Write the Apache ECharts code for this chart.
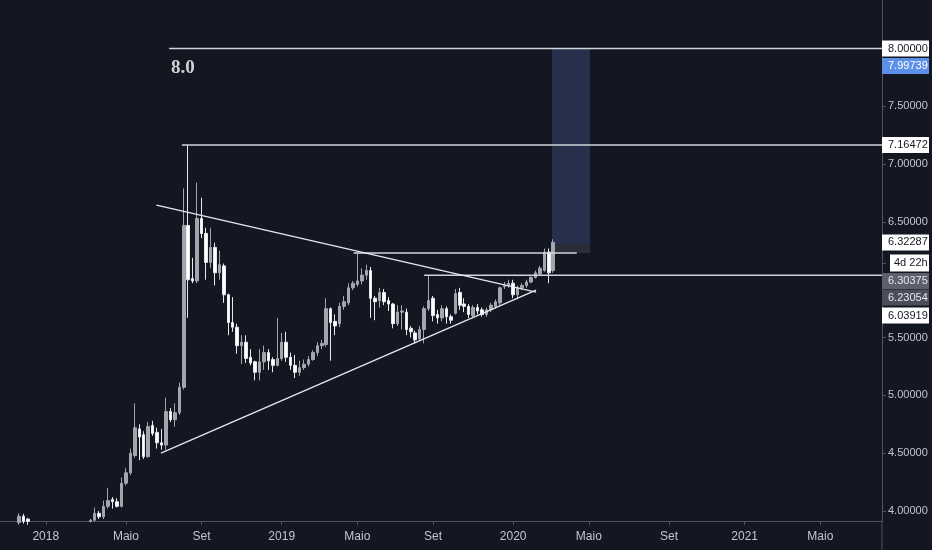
<!DOCTYPE html>
<html>
<head>
<meta charset="utf-8">
<script src="https://cdn.jsdelivr.net/npm/echarts@6/dist/echarts.min.js"></script>
<style>
html,body{margin:0;padding:0;background:#131722;}
#chart{width:932px;height:550px;}
</style>
</head>
<body>
<div id="chart"></div>
<script>
// ---------------- DATA ----------------
// weekly candles: [open, close, low, high]
const earlyStart = '2017-11-20';
const earlyOHLC = [
  [3.90, 3.955, 3.88, 3.98],
  [3.955, 3.91, 3.89, 3.975],
  [3.93, 3.91, 3.88, 3.94]
];
const mainStart = '2018-03-12';
const mainOHLC = [
  [3.91,3.92,3.90,3.93],[3.92,3.98,3.91,4.03],[3.98,3.95,3.93,4.00],[3.95,4.04,3.93,4.09],
  [4.04,4.09,4.02,4.20],[4.10,4.08,4.02,4.12],[4.08,4.04,4.03,4.11],[4.04,4.24,4.03,4.29],
  [4.24,4.33,4.22,4.37],[4.33,4.50,4.31,4.54],[4.48,4.72,4.46,4.93],[4.71,4.64,4.44,4.75],
  [4.66,4.47,4.45,4.69],[4.47,4.73,4.46,4.77],[4.74,4.67,4.65,4.78],[4.68,4.59,4.54,4.72],
  [4.59,4.57,4.53,4.71],[4.57,4.86,4.53,4.98],[4.86,4.79,4.77,4.89],[4.79,4.85,4.73,4.93],
  [4.85,5.07,4.83,5.11],[5.07,6.47,5.05,6.79],[6.47,6.00,5.67,7.16472],[6.01,5.99,5.97,6.19],
  [5.99,6.53,5.97,6.84],[6.53,6.40,6.36,6.71],[6.40,6.15,6.00,6.45],[6.15,6.28,6.10,6.45],
  [6.28,6.06,5.95,6.32],[6.06,6.13,6.00,6.25],[6.12,5.87,5.80,6.14],[5.87,5.63,5.52,5.88],
  [5.63,5.59,5.55,5.85],[5.59,5.43,5.36,5.62],[5.43,5.46,5.27,5.52],[5.46,5.32,5.28,5.52],
  [5.33,5.28,5.26,5.40],[5.29,5.20,5.13,5.30],[5.20,5.29,5.13,5.40],[5.29,5.37,5.22,5.43],
  [5.37,5.30,5.22,5.40],[5.31,5.26,5.20,5.33],[5.26,5.32,5.25,5.67],[5.32,5.46,5.30,5.54],
  [5.46,5.33,5.29,5.55],[5.33,5.26,5.22,5.37],[5.26,5.20,5.15,5.35],[5.20,5.24,5.17,5.30],
  [5.24,5.27,5.22,5.31],[5.27,5.31,5.25,5.34],[5.31,5.37,5.30,5.39],[5.37,5.43,5.34,5.46],
  [5.43,5.45,5.40,5.48],[5.44,5.75,5.42,5.84],[5.75,5.63,5.30,5.76],[5.64,5.60,5.52,5.70],
  [5.62,5.77,5.59,5.80],[5.77,5.81,5.74,5.86],[5.80,5.93,5.78,5.97],[5.93,5.97,5.91,5.99],
  [5.96,5.99,5.94,6.23054],[5.99,6.04,5.96,6.10],[6.04,6.08,6.00,6.13],[6.08,5.84,5.67,6.11],
  [5.84,5.81,5.65,5.86],[5.82,5.89,5.76,5.93],[5.89,5.81,5.78,5.92],[5.82,5.79,5.73,5.85],
  [5.79,5.62,5.58,5.80],[5.62,5.72,5.60,5.78],[5.72,5.73,5.57,5.78],[5.72,5.57,5.52,5.75],
  [5.58,5.55,5.50,5.60],[5.54,5.48,5.45,5.56],[5.49,5.57,5.47,5.60],[5.57,5.75,5.45,5.77],
  [5.75,5.82,5.73,6.03919],[5.84,5.69,5.64,5.86],[5.70,5.67,5.62,5.74],[5.67,5.75,5.64,5.78],
  [5.75,5.68,5.62,5.77],[5.68,5.65,5.62,5.70],[5.71,5.88,5.70,5.92],[5.89,5.78,5.74,5.93],
  [5.79,5.77,5.72,5.84],[5.77,5.70,5.67,5.79],[5.69,5.76,5.67,5.78],[5.76,5.73,5.70,5.79],
  [5.74,5.70,5.68,5.76],[5.70,5.74,5.68,5.76],[5.74,5.78,5.72,5.80],[5.77,5.81,5.75,5.83],
  [5.80,5.93,5.78,5.94],[5.94,5.95,5.92,5.98],[5.95,5.97,5.93,6.00],[5.97,5.87,5.84,6.00],
  [5.87,5.93,5.83,5.95],[5.93,5.95,5.91,5.97],[5.95,5.98,5.93,6.00],[5.98,6.02,5.97,6.03],
  [6.02,6.06,6.01,6.08],[6.05,6.10,6.04,6.12],[6.08,6.24,6.07,6.27],[6.24,6.06,5.97,6.27],
  [6.08,6.32287,6.06,6.35]
];

const xTickDates = ['2018-01-01','2018-05-07','2018-09-03','2019-01-07','2019-05-06','2019-09-02',
                    '2020-01-06','2020-05-04','2020-09-07','2021-01-04','2021-05-03'];
const xTickLabels = ['2018','Maio','Set','2019','Maio','Set','2020','Maio','Set','2021','Maio'];

const yTickValues = [4.0, 4.5, 5.0, 5.5, 6.5, 7.0, 7.5];
const yTickLabels = ['4.00000','4.50000','5.00000','5.50000','6.50000','7.00000','7.50000'];

const tagValues = [8.0, 7.99739, 7.16472, 6.32287, 6.32287, 6.30375, 6.23054, 6.03919];
const tagTexts  = ['8.00000','7.99739','7.16472','6.32287','4d 22h','6.30375','6.23054','6.03919'];
const tagKinds  = ['white','blue','white','white','timer','grey','grey2','white'];

const levelValues = [8.0, 7.16472, 6.23054, 6.03919];
const levelFrom   = ['2018-07-14','2018-08-03','2019-04-30','2019-08-19'];
const levelTo     = [null, null, '2020-04-15', null];

const trendFromDates = ['2018-06-24','2018-07-01'];
const trendFromValues = [6.646, 4.501];
const trendToDates = ['2020-02-11','2020-02-11'];
const trendToValues = [5.894, 5.911];

const positionDates = ['2020-03-07','2020-05-06'];
const positionTarget = 7.99739, positionEntry = 6.30375, positionStop = 6.23054;

const noteText = '8.0', noteDate = '2018-07-17', noteValue = 7.831;

// ---------------- LAYOUT ----------------
const X_MIN = '2017-10-21', X_MAX = '2021-08-08';
const Y_MIN = 3.9135, Y_MAX = 8.4196;
const CHART_W = 932, CHART_H = 550;
const GRID = {left:0, right:47, top:0, bottom:29};
const tagShiftPx = [0, 17.2, 0, 0, 20.6, 36.4, 44.4, 40.3];
const FONT = "'Liberation Sans Narrow', 'Liberation Sans', sans-serif";
const AXIS_COLOR = '#50535e';

// ---------------- BUILD ----------------
function T(s, addDays) {
  const p = s.split('-').map(Number);
  return new Date(p[0], p[1]-1, p[2] + (addDays || 0)).getTime();
}
const candles = [];
earlyOHLC.forEach((d,i) => candles.push([T(earlyStart, 7*i)].concat(d)));
mainOHLC.forEach((d,i) => candles.push([T(mainStart, 7*i)].concat(d)));

const pxPerUnit = (CHART_H - GRID.top - GRID.bottom) / (Y_MAX - Y_MIN);
const labelMap = {};
const yLabelPositions = [];
yTickValues.forEach((v,i) => { yLabelPositions.push(v); labelMap[v.toFixed(6)] = {text: yTickLabels[i], kind:'n'}; });
tagValues.forEach((v,i) => {
  const pos = v - tagShiftPx[i] / pxPerUnit;
  yLabelPositions.push(pos);
  labelMap[pos.toFixed(6)] = {text: tagTexts[i], kind: tagKinds[i]};
});

const xTickTimes = xTickDates.map(d => T(d));

const lineStyle = {color:'#d1d4dc', width:1.5};
const lineSeries = [];
levelValues.forEach((v,i) => {
  lineSeries.push({
    type:'line', silent:true, symbol:'none', animation:false, lineStyle,
    data:[[T(levelFrom[i]), v],[T(levelTo[i] || X_MAX), v]]
  });
});
trendFromDates.forEach((d,i) => {
  lineSeries.push({
    type:'line', silent:true, symbol:'none', animation:false,
    lineStyle:{color:'#e6e8ee', width:1.3},
    data:[[T(d), trendFromValues[i]],[T(trendToDates[i]), trendToValues[i]]]
  });
});

const boxStyle = {width:41, height:12, lineHeight:12, padding:[2,0,2,6], fontSize:11, fontFamily:FONT};
const chart = echarts.init(document.getElementById('chart'));
chart.setOption({
  backgroundColor:'#131722',
  animation:false,
  grid:GRID,
  xAxis:{
    type:'value', min:T(X_MIN), max:T(X_MAX),
    axisLine:{show:true, lineStyle:{color:AXIS_COLOR, width:1}},
    axisTick:{show:true, length:4, lineStyle:{color:AXIS_COLOR}, customValues:xTickTimes},
    axisLabel:{
      customValues:xTickTimes, margin:10, color:'#c3c6ce', fontSize:12, fontFamily:FONT,
      formatter:(val) => { const i = xTickTimes.indexOf(Number(val)); return i >= 0 ? xTickLabels[i] : ''; }
    },
    splitLine:{show:false}
  },
  yAxis:{
    type:'value', position:'right', min:Y_MIN, max:Y_MAX, scale:true,
    axisLine:{show:true, lineStyle:{color:AXIS_COLOR, width:1}},
    axisTick:{show:true, length:4, lineStyle:{color:AXIS_COLOR}, customValues:yLabelPositions},
    axisLabel:{
      customValues:yLabelPositions, margin:0, color:'#c3c6ce', fontSize:11, fontFamily:FONT,
      formatter:(val) => {
        const e = labelMap[Number(val).toFixed(6)];
        if (!e) return '';
        if (e.kind === 'timer') return '{gap| }{timer|' + e.text + '}';
        return '{' + e.kind + '|' + e.text + '}';
      },
      rich:{
        n:{color:'#c3c6ce', padding:[0,0,0,6], fontSize:11, fontFamily:FONT},
        white:Object.assign({backgroundColor:'#ffffff', color:'#131722'}, boxStyle),
        blue:Object.assign({backgroundColor:'#5b8fe8', color:'#ffffff'}, boxStyle),
        grey:Object.assign({backgroundColor:'#5d606b', color:'#e6e8ee'}, boxStyle),
        grey2:Object.assign({backgroundColor:'#4b4e58', color:'#e6e8ee'}, boxStyle),
        gap:{width:8, fontSize:11},
        timer:{backgroundColor:'#ffffff', color:'#131722', width:35, height:13, lineHeight:13,
               padding:[2,0,2,4], fontSize:11, fontFamily:FONT}
      }
    },
    splitLine:{show:false}
  },
  series:[
    {
      type:'candlestick', animation:false, clip:true, barWidth:3,
      encode:{x:0, y:[1,2,3,4]},
      data:candles,
      itemStyle:{color:'#a3a6af', color0:'#ffffff', borderColor:'#a3a6af', borderColor0:'#e6e8ee', borderWidth:1},
      markArea:{
        silent:true,
        data:[
          [{xAxis:T(positionDates[0]), yAxis:positionEntry, itemStyle:{color:'#26304a'}},
           {xAxis:T(positionDates[1]), yAxis:positionTarget}],
          [{xAxis:T(positionDates[0]), yAxis:positionStop, itemStyle:{color:'#2a2e39'}},
           {xAxis:T(positionDates[1]), yAxis:positionEntry}]
        ]
      }
    }
  ].concat(lineSeries).concat([
    {
      type:'scatter', silent:true, symbolSize:0, animation:false,
      data:[[T(noteDate), noteValue]],
      label:{show:true, position:'right', distance:0, formatter:noteText, color:'#ffffff',
             fontSize:19, fontWeight:'bold', fontFamily:"'Liberation Serif', 'DejaVu Serif', serif"}
    }
  ])
});
// extend the price-axis line down through the time-axis strip, aligned with the real axis position
const axisPx = chart.convertToPixel({xAxisIndex:0}, T(X_MAX));
const bottomPx = chart.convertToPixel({yAxisIndex:0}, Y_MIN);
chart.setOption({
  graphic:[{
    type:'line', silent:true,
    shape:{x1:axisPx, y1:bottomPx, x2:axisPx, y2:CHART_H},
    style:{stroke:AXIS_COLOR, lineWidth:1}
  }]
});
</script>
</body>
</html>
